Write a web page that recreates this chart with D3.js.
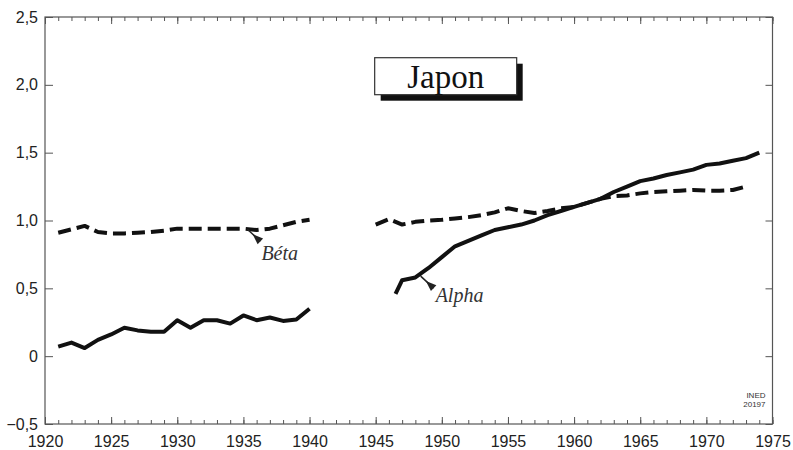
<!DOCTYPE html>
<html>
<head>
<meta charset="utf-8">
<script src="https://cdn.jsdelivr.net/npm/d3@7"></script>
<style>
  body { margin: 0; background: #fff; }
  .tick text { font-family: "Liberation Sans", Arial, sans-serif; font-size: 16px; fill: #222; }
  .tick line { stroke: #555; }
  .note { font-family: "Liberation Serif", "Times New Roman", serif; font-style: italic; font-size: 20px; fill: #333; }
</style>
</head>
<body>
<div id="chart"></div>
<script>
// pre-war period
const prewarYears = [1921, 1922, 1923, 1924, 1925, 1926, 1927, 1928, 1929, 1930,
                     1931, 1932, 1933, 1934, 1935, 1936, 1937, 1938, 1939, 1940];
const prewarAlpha = [0.07, 0.10, 0.06, 0.12, 0.16, 0.21, 0.19, 0.18, 0.18, 0.265,
                     0.21, 0.265, 0.265, 0.24, 0.30, 0.265, 0.285, 0.26, 0.27, 0.35];
const prewarBeta = [0.91, 0.935, 0.96, 0.915, 0.905, 0.905, 0.91, 0.915, 0.925, 0.94,
                    0.94, 0.94, 0.94, 0.94, 0.94, 0.93, 0.94, 0.965, 0.99, 1.005];

// post-war period
const postwarAlphaYears = [1946.5, 1947, 1948, 1949, 1950, 1951, 1952, 1953, 1954, 1955,
                           1956, 1957, 1958, 1959, 1960, 1961, 1962, 1963, 1964, 1965,
                           1966, 1967, 1968, 1969, 1970, 1971, 1972, 1973, 1974];
const postwarAlpha = [0.46, 0.56, 0.58, 0.65, 0.73, 0.81, 0.85, 0.89, 0.93, 0.95,
                      0.97, 1.00, 1.04, 1.07, 1.10, 1.13, 1.16, 1.21, 1.25, 1.29,
                      1.31, 1.335, 1.355, 1.375, 1.41, 1.42, 1.44, 1.46, 1.50];
const postwarBetaYears = [1945, 1946, 1947, 1948, 1949, 1950, 1951, 1952, 1953, 1954,
                          1955, 1956, 1957, 1958, 1959, 1960, 1961, 1962, 1963, 1964,
                          1965, 1966, 1967, 1968, 1969, 1970, 1971, 1972, 1973];
const postwarBeta = [0.97, 1.01, 0.97, 0.99, 1.00, 1.005, 1.015, 1.025, 1.04, 1.06,
                     1.09, 1.07, 1.055, 1.07, 1.09, 1.10, 1.13, 1.16, 1.18, 1.185,
                     1.20, 1.21, 1.215, 1.22, 1.225, 1.22, 1.22, 1.225, 1.25];

const majorYears = [1920, 1925, 1930, 1935, 1940, 1945, 1950, 1955, 1960, 1965, 1970, 1975];
const yTicks = [-0.5, 0, 0.5, 1.0, 1.5, 2.0, 2.5];
const title = "Japon";

const width = 793, height = 450;
const margin = { top: 17, right: 20.5, bottom: 26, left: 45 };

const svg = d3.select('#chart')
    .append('svg')
    .attr('width', width)
    .attr('height', height);

const x = d3.scaleLinear().domain([1920, 1975]).range([margin.left, width - margin.right]);
const y = d3.scaleLinear().domain([-0.5, 2.5]).range([height - margin.bottom, margin.top]);

const allYears = d3.range(1920, 1976);
const fmt = (d) => d === 0 ? '0' : d3.format('.1f')(d).replace('.', ',');

// minor year ticks, top and bottom
svg.append('g')
    .attr('transform', `translate(0, ${y(-0.5)})`)
    .call(d3.axisBottom(x).tickValues(allYears).tickSize(-4).tickFormat(''));
svg.append('g')
    .attr('transform', `translate(0, ${y(2.5)})`)
    .call(d3.axisTop(x).tickValues(allYears).tickSize(-4).tickFormat(''));

// major ticks with labels
svg.append('g')
    .attr('transform', `translate(0, ${y(-0.5)})`)
    .call(d3.axisBottom(x).tickValues(majorYears).tickSize(-7).tickPadding(12).tickFormat(d3.format('d')));
svg.append('g')
    .attr('transform', `translate(0, ${y(2.5)})`)
    .call(d3.axisTop(x).tickValues(majorYears).tickSize(-7).tickFormat(''));

svg.append('g')
    .attr('transform', `translate(${x(1920)}, 0)`)
    .call(d3.axisLeft(y).tickValues(yTicks).tickSize(-8).tickPadding(7).tickFormat(fmt));
svg.append('g')
    .attr('transform', `translate(${x(1975)}, 0)`)
    .call(d3.axisRight(y).tickValues(yTicks).tickSize(-7).tickFormat(''));

svg.selectAll('.domain').remove();

// frame
svg.append('rect')
    .attr('x', x(1920))
    .attr('y', y(2.5))
    .attr('width', x(1975) - x(1920))
    .attr('height', y(-0.5) - y(2.5))
    .style('fill', 'none')
    .style('stroke', '#555')
    .style('stroke-width', 1.2);

const line = d3.line()
    .x((d) => x(d[0]))
    .y((d) => y(d[1]));

const drawSeries = (years, values, dashed) => {
    svg.append('path')
        .datum(d3.zip(years, values))
        .attr('d', line)
        .style('fill', 'none')
        .style('stroke', '#111')
        .style('stroke-width', 4)
        .style('stroke-linejoin', 'round')
        .style('stroke-dasharray', dashed ? '13,6' : null);
};

drawSeries(prewarYears, prewarBeta, true);
drawSeries(postwarBetaYears, postwarBeta, true);
drawSeries(prewarYears, prewarAlpha, false);
drawSeries(postwarAlphaYears, postwarAlpha, false);

// leader lines: thin near the curve, widening into a wedge near the label
const annotate = (year, value, dx, dy, text, tx, ty) => {
    const x0 = x(year), y0 = y(value);
    const x1 = x0 + dx, y1 = y0 + dy;
    svg.append('line')
        .attr('x1', x0).attr('y1', y0)
        .attr('x2', x1).attr('y2', y1)
        .style('stroke', '#222')
        .style('stroke-width', 1.5);
    const ang = Math.atan2(dy, dx);
    const half = 4;
    const tipX = x0 + dx * 0.4, tipY = y0 + dy * 0.4;
    svg.append('path')
        .attr('d', `M${tipX},${tipY}L${x1 - half * Math.sin(ang)},${y1 + half * Math.cos(ang)}L${x1 + half * Math.sin(ang)},${y1 - half * Math.cos(ang)}Z`)
        .style('fill', '#222');
    svg.append('text')
        .attr('class', 'note')
        .attr('x', x0 + tx)
        .attr('y', y0 + ty)
        .text(text);
};

annotate(1935.3, 0.935, 13, 12, 'Béta', 14, 31);
annotate(1948.4, 0.59, 13, 12, 'Alpha', 15, 26);

// title box
const boxX = x(1945) - 1, boxY = y(2.2), boxW = 142, boxH = 37;
svg.append('rect')
    .attr('x', boxX + 6).attr('y', boxY + 6)
    .attr('width', boxW).attr('height', boxH)
    .style('fill', '#111');
svg.append('rect')
    .attr('x', boxX).attr('y', boxY)
    .attr('width', boxW).attr('height', boxH)
    .style('fill', '#fff')
    .style('stroke', '#333')
    .style('stroke-width', 1.2);
svg.append('text')
    .attr('x', boxX + boxW / 2)
    .attr('y', boxY + 30)
    .style('text-anchor', 'middle')
    .style('font-family', '"Liberation Serif", "Times New Roman", serif')
    .style('font-size', '33px')
    .style('fill', '#111')
    .text(title);

// source note
svg.append('text')
    .attr('x', x(1975) - 7).attr('y', y(-0.5) - 26)
    .style('text-anchor', 'end')
    .style('font-family', '"Liberation Sans", Arial, sans-serif')
    .style('font-size', '8px')
    .style('fill', '#333')
    .selectAll('tspan')
    .data(['INED', '20197'])
    .join('tspan')
    .attr('x', x(1975) - 7)
    .attr('dy', (d, i) => i === 0 ? 0 : 9)
    .text((d) => d);
</script>
</body>
</html>
